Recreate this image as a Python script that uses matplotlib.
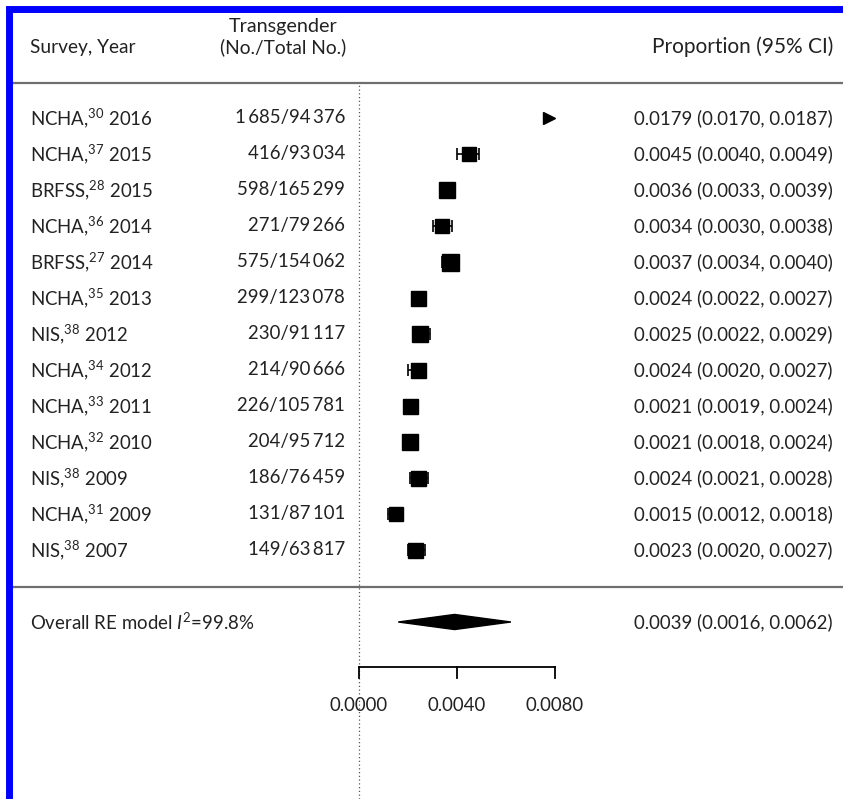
import matplotlib
matplotlib.use("Agg")
import matplotlib.pyplot as plt
from matplotlib.patches import Rectangle
import matplotlib.transforms as mtransforms

plt.rcParams['font.family'] = ['Lato', 'DejaVu Sans']
plt.rcParams['mathtext.fontset'] = 'custom'
plt.rcParams['mathtext.rm'] = 'Lato'
plt.rcParams['mathtext.it'] = 'Lato:italic'

# data
surveys = ['NCHA', 'NCHA', 'BRFSS', 'NCHA', 'BRFSS', 'NCHA', 'NIS', 'NCHA', 'NCHA',
           'NCHA', 'NIS', 'NCHA', 'NIS']
refs = ['30', '37', '28', '36', '27', '35', '38', '34', '33', '32', '38', '31', '38']
years = ['2016', '2015', '2015', '2014', '2014', '2013', '2012', '2012', '2011',
         '2010', '2009', '2009', '2007']
counts = ['1\u2009685/94\u2009376', '416/93\u2009034', '598/165\u2009299', '271/79\u2009266',
          '575/154\u2009062', '299/123\u2009078', '230/91\u2009117', '214/90\u2009666',
          '226/105\u2009781', '204/95\u2009712', '186/76\u2009459', '131/87\u2009101',
          '149/63\u2009817']
est = [0.0179, 0.0045, 0.0036, 0.0034, 0.0037, 0.0024, 0.0025, 0.0024, 0.0021,
       0.0021, 0.0024, 0.0015, 0.0023]
lo = [0.0170, 0.0040, 0.0033, 0.0030, 0.0034, 0.0022, 0.0022, 0.0020, 0.0019,
      0.0018, 0.0021, 0.0012, 0.0020]
hi = [0.0187, 0.0049, 0.0039, 0.0038, 0.0040, 0.0027, 0.0029, 0.0027, 0.0024,
      0.0024, 0.0028, 0.0018, 0.0027]
weights = [12, 14, 16, 14, 17, 15, 16, 15, 15, 16, 15, 14, 15]
overall = (0.0039, 0.0016, 0.0062)
i2 = '99.8%'
ticks = [0.0, 0.004, 0.008]
tick_labels = ['0.0000', '0.0040', '0.0080']
xmax_plot = 0.00776

W, H = 843, 799
fig = plt.figure(figsize=(W / 100, H / 100), dpi=100)
ax = fig.add_axes([0, 0, 1, 1])
scale = 24500.0
ax.set_xlim(-359 / scale, (W - 359) / scale)
ax.set_ylim((H - 118) / 36.0, -118 / 36.0)
ax.axis('off')

txt = '#222222'
fs = 13.4
bt = mtransforms.blended_transform_factory(fig.transFigure, ax.transData)

# blue frame
fig.patches.append(Rectangle((9 / W, -0.1), 1.2, 1.1 - 8.5 / H, transform=fig.transFigure,
                             fill=False, edgecolor='#0000ff', linewidth=5))

# header
ax.text(30 / W, -1.97, 'Survey, Year', transform=bt, ha='left', va='center', fontsize=fs + 0.4, color=txt)
ax.text(283 / W, -2.53, 'Transgender', transform=bt, ha='center', va='center', fontsize=fs + 0.8, color=txt)
ax.text(283 / W, -1.97, '(No./Total No.)', transform=bt, ha='center', va='center', fontsize=fs + 0.4, color=txt)
ax.text(833 / W, -1.97, 'Proportion (95% CI)', transform=bt, ha='right', va='center', fontsize=fs + 1.6, color=txt)

# separators
for yl in [-0.97, 13.03]:
    ax.plot([12 / W, 1], [yl, yl], transform=bt, color='#6e6e6e', lw=1.6)
ax.axvline(0, ymin=0, ymax=(H - 83) / H, color='#555555', lw=0.9, ls=(0, (1, 2)))

n = len(est)
for i in range(n):
    ax.text(30 / W, i, surveys[i] + ',$^{\\mathrm{' + refs[i] + '}}$ ' + years[i],
            transform=bt, ha='left', va='center', fontsize=fs, color=txt)
    ax.text(345 / W, i, counts[i], transform=bt, ha='right', va='center', fontsize=fs, color=txt)
    ax.text(833 / W, i, '%.4f (%.4f, %.4f)' % (est[i], lo[i], hi[i]), transform=bt,
            ha='right', va='center', fontsize=fs, color=txt)
    if est[i] > xmax_plot:
        ax.plot(xmax_plot, i, marker='>', ms=weights[i] * 0.72, color='black', mec='black')
    else:
        ax.errorbar(est[i], i, xerr=[[est[i] - lo[i]], [hi[i] - est[i]]], fmt='none',
                    ecolor='black', elinewidth=1.2, capsize=4.5, capthick=1.2)
        ax.plot(est[i], i, marker='s', ms=weights[i] * 0.72, color='black')

# overall
yo = n + 1
ax.fill([overall[1], overall[0], overall[2], overall[0]],
        [yo, yo - 0.21, yo, yo + 0.21], color='black')
ax.text(30 / W, yo, 'Overall RE model $\\mathit{I}^{\\mathrm{2}}$=' + i2,
        transform=bt, ha='left', va='center', fontsize=fs, color=txt)
ax.text(833 / W, yo, '%.4f (%.4f, %.4f)' % overall, transform=bt,
        ha='right', va='center', fontsize=fs, color=txt)

# x axis
ya = 15.25
ax.plot([ticks[0], ticks[-1]], [ya, ya], color='black', lw=1.3)
for t, lab in zip(ticks, tick_labels):
    ax.plot([t, t], [ya, ya + 0.31], color='black', lw=1.3)
    ax.text(t, 16.33, lab, ha='center', va='center', fontsize=fs, color=txt)

fig.savefig('out.png', dpi=100)
